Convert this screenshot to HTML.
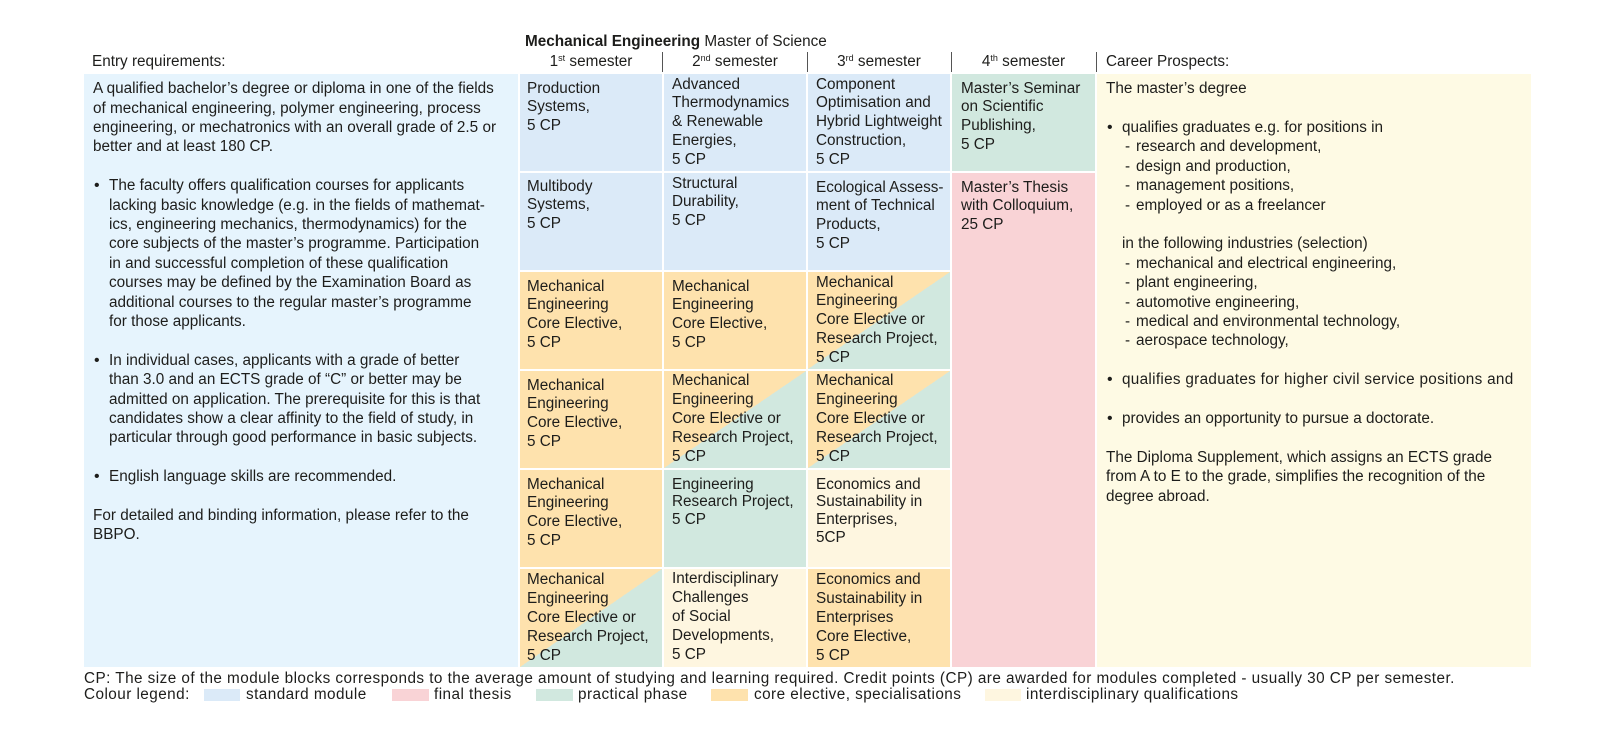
<!DOCTYPE html>
<html>
<head>
<meta charset="utf-8">
<style>
html,body{margin:0;padding:0;background:#fff;}
body{width:1600px;height:740px;position:relative;overflow:hidden;font-family:"Liberation Sans","DejaVu Sans",sans-serif;color:#1d1d1b;font-size:15.3px;}
.abs{position:absolute;white-space:nowrap;}
.blk{position:absolute;box-sizing:border-box;}
.c{position:absolute;box-sizing:border-box;line-height:18.8px;white-space:nowrap;font-size:15.3px;}
.blue{background:#dbeaf8;}
.green{background:#d1e8df;}
.pink{background:#f9d3d6;}
.orange{background:#fee2ad;}
.cream{background:#fef6e0;}
.diag{background:linear-gradient(to bottom right,#fee2ad 50%,#d1e8df 50%);}
.c1{left:520px;width:142px;padding-left:7px;}
.c2{left:664px;width:142px;padding-left:8px;}
.c3{left:808px;width:142px;padding-left:8px;}
.c4{left:952px;width:143px;padding-left:9px;}
.r1{top:74px;height:97px;}
.r2{top:173px;height:97px;}
.r3{top:272px;height:97px;}
.r4{top:371px;height:97px;}
.r5{top:470px;height:97px;}
.r6{top:569px;height:98px;}
.sep{position:absolute;top:52px;height:20px;width:1px;background:#555;}
.hd{position:absolute;top:52px;line-height:20px;white-space:nowrap;text-align:center;}
sup{font-size:9px;vertical-align:5px;line-height:0;}
.txt{position:absolute;line-height:19.4px;white-space:nowrap;}
.txt div{position:relative;height:19.4px;}
.b{position:absolute;left:1px;top:0;font-size:16px;}
.bt{padding-left:16px;}
.d{position:absolute;left:19px;}
.dt{padding-left:30px;}
.sw{position:absolute;top:689px;height:12px;}
.ft{letter-spacing:0.45px;}
</style>
</head>
<body>

<!-- title -->
<div class="abs" style="left:525px;top:32px;line-height:20px;"><b>Mechanical Engineering</b> Master of Science</div>

<!-- header row -->
<div class="abs" style="left:92px;top:52px;line-height:20px;">Entry requirements:</div>
<div class="hd" style="left:520px;width:142px;">1<sup>st</sup> semester</div>
<div class="hd" style="left:664px;width:142px;">2<sup>nd</sup> semester</div>
<div class="hd" style="left:808px;width:142px;">3<sup>rd</sup> semester</div>
<div class="hd" style="left:952px;width:143px;">4<sup>th</sup> semester</div>
<div class="abs" style="left:1106px;top:52px;line-height:20px;">Career Prospects:</div>
<div class="sep" style="left:662px;"></div>
<div class="sep" style="left:807px;"></div>
<div class="sep" style="left:951px;"></div>
<div class="sep" style="left:1096px;"></div>

<!-- left column -->
<div class="blk" style="left:84px;top:74px;width:434px;height:593px;background:#e6f4fd;"></div>
<div class="txt" style="left:93px;top:79.3px;">
<div>A qualified bachelor’s degree or diploma in one of the fields</div>
<div>of mechanical engineering, polymer engineering, process</div>
<div>engineering, or mechatronics with an overall grade of 2.5 or</div>
<div>better and at least 180 CP.</div>
<div></div>
<div class="bt"><span class="b">•</span>The faculty offers qualification courses for applicants</div>
<div class="bt">lacking basic knowledge (e.g. in the fields of mathemat-</div>
<div class="bt">ics, engineering mechanics, thermodynamics) for the</div>
<div class="bt">core subjects of the master’s programme. Participation</div>
<div class="bt">in and successful completion of these qualification</div>
<div class="bt">courses may be defined by the Examination Board as</div>
<div class="bt">additional courses to the regular master’s programme</div>
<div class="bt">for those applicants.</div>
<div></div>
<div class="bt"><span class="b">•</span>In individual cases, applicants with a grade of better</div>
<div class="bt">than 3.0 and an ECTS grade of “C” or better may be</div>
<div class="bt">admitted on application. The prerequisite for this is that</div>
<div class="bt">candidates show a clear affinity to the field of study, in</div>
<div class="bt">particular through good performance in basic subjects.</div>
<div></div>
<div class="bt"><span class="b">•</span>English language skills are recommended.</div>
<div></div>
<div>For detailed and binding information, please refer to the</div>
<div>BBPO.</div>
</div>

<!-- grid row 1 -->
<div class="c c1 r1 blue" style="padding-top:5.6px;">Production<br>Systems,<br>5 CP</div>
<div class="c c2 r1 blue" style="padding-top:1.5px;">Advanced<br>Thermodynamics<br>&amp; Renewable<br>Energies,<br>5 CP</div>
<div class="c c3 r1 blue" style="padding-top:1.5px;">Component<br>Optimisation and<br>Hybrid Lightweight<br>Construction,<br>5 CP</div>
<div class="c c4 r1 green" style="padding-top:5.6px;">Master’s Seminar<br>on Scientific<br>Publishing,<br>5 CP</div>

<!-- row 2 -->
<div class="c c1 r2 blue" style="padding-top:4.5px;">Multibody<br>Systems,<br>5 CP</div>
<div class="c c2 r2 blue" style="padding-top:1.5px;">Structural<br>Durability,<br>5 CP</div>
<div class="c c3 r2 blue" style="padding-top:5.6px;">Ecological Assess-<br>ment of Technical<br>Products,<br>5 CP</div>
<div class="c c4 pink" style="top:173px;height:494px;padding-top:5.6px;">Master’s Thesis<br>with Colloquium,<br>25 CP</div>

<!-- row 3 -->
<div class="c c1 r3 orange" style="padding-top:5.5px;">Mechanical<br>Engineering<br>Core Elective,<br>5 CP</div>
<div class="c c2 r3 orange" style="padding-top:5.5px;">Mechanical<br>Engineering<br>Core Elective,<br>5 CP</div>
<div class="c c3 r3 diag" style="padding-top:1.5px;">Mechanical<br>Engineering<br>Core Elective or<br>Research Project,<br>5 CP</div>

<!-- row 4 -->
<div class="c c1 r4 orange" style="padding-top:5.5px;">Mechanical<br>Engineering<br>Core Elective,<br>5 CP</div>
<div class="c c2 r4 diag" style="padding-top:1.4px;">Mechanical<br>Engineering<br>Core Elective or<br>Research Project,<br>5 CP</div>
<div class="c c3 r4 diag" style="padding-top:1.4px;">Mechanical<br>Engineering<br>Core Elective or<br>Research Project,<br>5 CP</div>

<!-- row 5 -->
<div class="c c1 r5 orange" style="padding-top:5.5px;">Mechanical<br>Engineering<br>Core Elective,<br>5 CP</div>
<div class="c c2 r5 green" style="padding-top:5.5px;line-height:17.8px;">Engineering<br>Research Project,<br>5 CP</div>
<div class="c c3 r5 cream" style="padding-top:5.5px;line-height:17.8px;">Economics and<br>Sustainability in<br>Enterprises,<br>5CP</div>

<!-- row 6 -->
<div class="c c1 r6 diag" style="padding-top:2.4px;">Mechanical<br>Engineering<br>Core Elective or<br>Research Project,<br>5 CP</div>
<div class="c c2 r6 cream" style="padding-top:1.4px;">Interdisciplinary<br>Challenges<br>of Social<br>Developments,<br>5 CP</div>
<div class="c c3 r6 orange" style="padding-top:2.4px;">Economics and<br>Sustainability in<br>Enterprises<br>Core Elective,<br>5 CP</div>

<!-- right column -->
<div class="blk" style="left:1097px;top:74px;width:434px;height:593px;background:#fefae4;"></div>
<div class="txt" style="left:1106px;top:79.3px;">
<div>The master’s degree</div>
<div></div>
<div class="bt"><span class="b">•</span>qualifies graduates e.g. for positions in</div>
<div class="dt"><span class="d">-</span>research and development,</div>
<div class="dt"><span class="d">-</span>design and production,</div>
<div class="dt"><span class="d">-</span>management positions,</div>
<div class="dt"><span class="d">-</span>employed or as a freelancer</div>
<div></div>
<div class="bt">in the following industries (selection)</div>
<div class="dt"><span class="d">-</span>mechanical and electrical engineering,</div>
<div class="dt"><span class="d">-</span>plant engineering,</div>
<div class="dt"><span class="d">-</span>automotive engineering,</div>
<div class="dt"><span class="d">-</span>medical and environmental technology,</div>
<div class="dt"><span class="d">-</span>aerospace technology,</div>
<div></div>
<div class="bt" style="letter-spacing:0.3px;"><span class="b">•</span>qualifies graduates for higher civil service positions and</div>
<div></div>
<div class="bt"><span class="b">•</span>provides an opportunity to pursue a doctorate.</div>
<div></div>
<div>The Diploma Supplement, which assigns an ECTS grade</div>
<div>from A to E to the grade, simplifies the recognition of the</div>
<div>degree abroad.</div>
</div>

<!-- footer -->
<div class="abs ft" style="left:84px;top:670.8px;line-height:16px;">CP: The size of the module blocks corresponds to the average amount of studying and learning required. Credit points (CP) are awarded for modules completed - usually 30 CP per semester.</div>
<div class="abs ft" style="left:84px;top:687.2px;line-height:16px;">Colour legend:</div>
<div class="sw blue" style="left:204px;width:36px;"></div>
<div class="abs ft" style="left:246px;top:687.2px;line-height:16px;">standard module</div>
<div class="sw pink" style="left:392px;width:37px;"></div>
<div class="abs ft" style="left:434px;top:687.2px;line-height:16px;">final thesis</div>
<div class="sw green" style="left:536px;width:37px;"></div>
<div class="abs ft" style="left:578px;top:687.2px;line-height:16px;">practical phase</div>
<div class="sw orange" style="left:711px;width:37px;"></div>
<div class="abs ft" style="left:754px;top:687.2px;line-height:16px;">core elective, specialisations</div>
<div class="sw cream" style="left:985px;width:36px;"></div>
<div class="abs ft" style="left:1026px;top:687.2px;line-height:16px;">interdisciplinary qualifications</div>

</body>
</html>
